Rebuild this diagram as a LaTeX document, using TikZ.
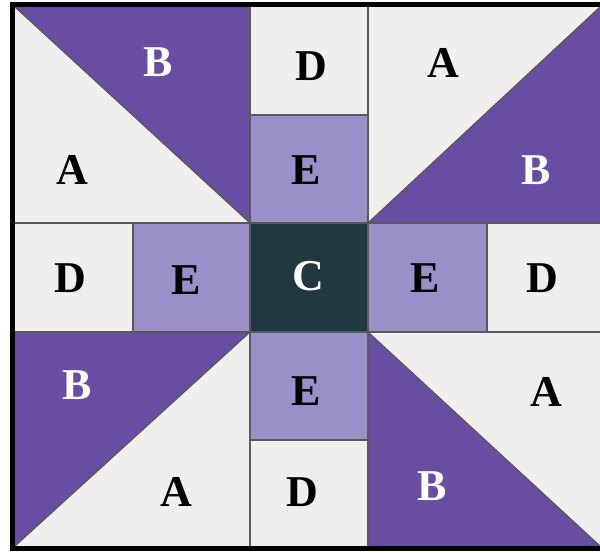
\documentclass[tikz,border=0pt]{standalone}
\usepackage{fontspec}
\setmainfont{Liberation Serif}
\usepackage{xcolor}
\usepackage{tikz}
\definecolor{patchB}{HTML}{684DA3}
\definecolor{patchE}{HTML}{9A8FC8}
\definecolor{patchC}{HTML}{223841}
\definecolor{patchA}{HTML}{F1EFEE}

\begin{document}
\begin{tikzpicture}[x=0.5pt, y=-0.5pt,
    every node/.style={font=\bfseries\fontsize{22}{26}\selectfont},
    seam/.style={draw=black!65, line width=0.6pt},
    dk/.style={text=black}, wt/.style={text=white}]
  \useasboundingbox (0,0) rectangle (600,552);
  % grid corners of the block
  \coordinate (q0) at (15,7);
  \coordinate (q1) at (600,546);
  \fill[patchA] (q0) rectangle (q1);
  % purple half squares
  \fill[patchB] (15,7) -- (250,7) -- (250,223) -- cycle;
  \fill[patchB] (600,7) -- (600,223) -- (368,223) -- cycle;
  \fill[patchB] (15,332) -- (250,332) -- (15,546) -- cycle;
  \fill[patchB] (368,332) -- (600,546) -- (368,546) -- cycle;
  % cross
  \fill[patchE] (250,115) rectangle (368,223);
  \fill[patchE] (133,223) rectangle (250,332);
  \fill[patchE] (368,223) rectangle (487,332);
  \fill[patchE] (250,332) rectangle (368,440);
  \fill[patchC] (250,223) rectangle (368,332);
  % seams
  \draw[seam] (250,7) -- (250,546);
  \draw[seam] (368,7) -- (368,546);
  \draw[seam] (15,223) -- (600,223);
  \draw[seam] (15,332) -- (600,332);
  \draw[seam] (133,223) -- (133,332);
  \draw[seam] (487,223) -- (487,332);
  \draw[seam] (250,115) -- (368,115);
  \draw[seam] (250,440) -- (368,440);
  \draw[seam] (15,7) -- (250,223);
  \draw[seam] (600,7) -- (368,223);
  \draw[seam] (250,332) -- (15,546);
  \draw[seam] (368,332) -- (600,546);
  % outer border
  \draw[line width=2.5pt] (600,4.5) -- (12.5,4.5) -- (12.5,548.5) -- (600,548.5);
  % patch letters
  \node[wt] (b1) at (158,62) {B};
  \node[dk] (d1) at (311,66) {D};
  \node[dk] (a1) at (443,63) {A};
  \node[dk] (a2) at (72,170) {A};
  \node[dk] (e1) at (306,170) {E};
  \node[wt] (b2) at (536,170) {B};
  \node[dk] (d2) at (70,278) {D};
  \node[dk] (e2) at (186,280) {E};
  \node[wt] (c)  at (308,276) {C};
  \node[dk] (e3) at (425,278) {E};
  \node[dk] (d3) at (542,278) {D};
  \node[wt] (b3) at (77,385) {B};
  \node[dk] (e4) at (306,391) {E};
  \node[dk] (a3) at (546,392) {A};
  \node[dk] (a4) at (176,492) {A};
  \node[dk] (d4) at (302,492) {D};
  \node[wt] (b4) at (432,486) {B};
\end{tikzpicture}
\end{document}
